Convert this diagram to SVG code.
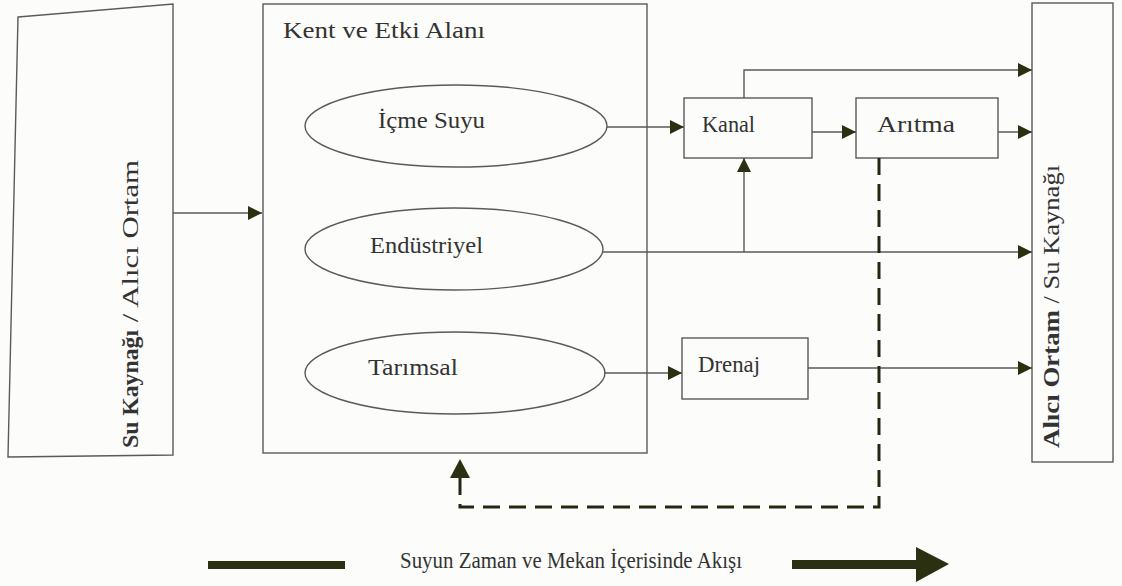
<svg xmlns="http://www.w3.org/2000/svg" width="1122" height="586" viewBox="0 0 1122 586">
<defs>
<style>
.box{fill:none;stroke:#5a5a5a;stroke-width:1.4}
.ln{fill:none;stroke:#5a5a5a;stroke-width:1.4}
.dash{fill:none;stroke:#262612;stroke-width:3;stroke-dasharray:17 9}
.t{font-family:"Liberation Serif","Times New Roman",serif;fill:#333;font-size:23.5px}
.b{font-weight:bold}
.hd{fill:#2b3012}
</style>
<marker id="ah" markerUnits="userSpaceOnUse" markerWidth="15" markerHeight="15" refX="14" refY="7" orient="auto">
<path class="hd" d="M0,0 L14,7 L0,14 z"/>
</marker>
</defs>
<rect width="1122" height="586" fill="#fcfcfa"/>

<g id="left-source">
<polygon class="box" points="18,17 173,4 173,455 8,457"/>
<text class="t" font-size="25" transform="translate(138,448) rotate(-90)"><tspan class="b" textLength="118" lengthAdjust="spacingAndGlyphs">Su Kaynağı</tspan><tspan textLength="170" lengthAdjust="spacingAndGlyphs"> / Alıcı Ortam</tspan></text>
</g>

<g id="kent">
<rect class="box" x="263" y="4" width="384" height="449"/>
<text class="t" x="283" y="38" textLength="202" lengthAdjust="spacingAndGlyphs">Kent ve Etki Alanı</text>
</g>

<g id="icme-suyu">
<ellipse class="box" cx="456" cy="126" rx="151" ry="41"/>
<text class="t" x="378" y="128" textLength="107" lengthAdjust="spacingAndGlyphs">İçme Suyu</text>
</g>

<g id="endustriyel">
<ellipse class="box" cx="454" cy="249" rx="149" ry="41"/>
<text class="t" x="370" y="253" textLength="113" lengthAdjust="spacingAndGlyphs">Endüstriyel</text>
</g>

<g id="tarimsal">
<ellipse class="box" cx="455" cy="373" rx="150" ry="41"/>
<text class="t" x="368" y="375" textLength="90" lengthAdjust="spacingAndGlyphs">Tarımsal</text>
</g>

<g id="kanal">
<rect class="box" x="684" y="98" width="128" height="60"/>
<text class="t" x="702" y="132" textLength="53" lengthAdjust="spacingAndGlyphs">Kanal</text>
</g>

<g id="aritma">
<rect class="box" x="856" y="98" width="142" height="60"/>
<text class="t" x="877" y="132" textLength="78" lengthAdjust="spacingAndGlyphs">Arıtma</text>
</g>

<g id="drenaj">
<rect class="box" x="682" y="338" width="126" height="61"/>
<text class="t" x="698" y="372" textLength="62" lengthAdjust="spacingAndGlyphs">Drenaj</text>
</g>

<g id="right-receiver">
<rect class="box" x="1032" y="3" width="81" height="459"/>
<text class="t" font-size="21" transform="translate(1059,448) rotate(-90)"><tspan class="b" textLength="138" lengthAdjust="spacingAndGlyphs">Alıcı Ortam</tspan><tspan textLength="145" lengthAdjust="spacingAndGlyphs"> / Su Kaynağı</tspan></text>
</g>

<g id="connectors">
<path class="ln" d="M173,213 H262" marker-end="url(#ah)"/>
<path class="ln" d="M607,127 H684" marker-end="url(#ah)"/>
<path class="ln" d="M812,132 H856" marker-end="url(#ah)"/>
<path class="ln" d="M998,132 H1032" marker-end="url(#ah)"/>
<path class="ln" d="M744,98 V70 H1032" marker-end="url(#ah)"/>
<path class="ln" d="M603,252 H1032" marker-end="url(#ah)"/>
<path class="ln" d="M744,252 V158" marker-end="url(#ah)"/>
<path class="ln" d="M604,373 H682" marker-end="url(#ah)"/>
<path class="ln" d="M808,368 H1032" marker-end="url(#ah)"/>
<path class="dash" d="M879,158 V507 H460 V478"/>
<path class="hd" d="M450,478 L460,459 L470,478 z"/>
</g>

<g id="legend">
<rect class="hd" x="208" y="561" width="137" height="8"/>
<text class="t" font-size="20" x="400" y="568" textLength="342" lengthAdjust="spacingAndGlyphs">Suyun Zaman ve Mekan İçerisinde Akışı</text>
<path class="hd" d="M792,560 H916 V547 L949,564 L916,582 V569 H792 z"/>
</g>
</svg>
